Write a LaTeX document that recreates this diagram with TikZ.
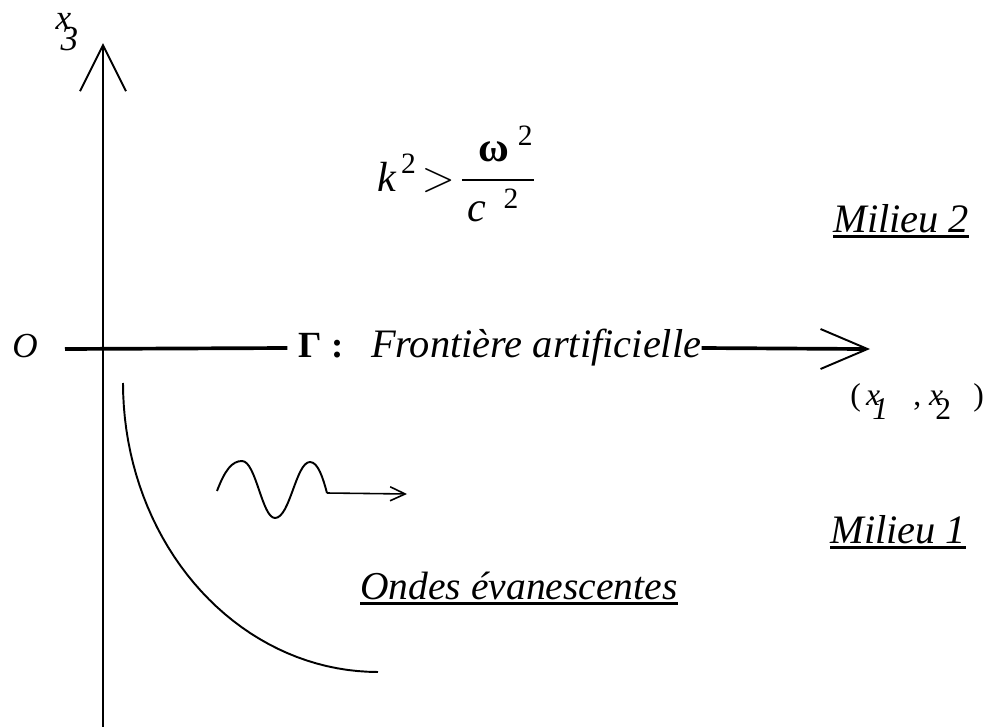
\documentclass[tikz,border=0pt]{standalone}
\usepackage{amsmath}
\usepackage{fontspec}
\setmainfont{Liberation Serif}
\usetikzlibrary{arrows.meta}

\newcommand{\milieufont}{\fontsize{23}{27}\selectfont\itshape}
\newcommand{\ulbar}[1]{\setbox0\hbox{#1}\rlap{\rule[-3.4pt]{\wd0}{1.5pt}}\box0}

\begin{document}
\begin{tikzpicture}[x=0.02cm,y=-0.02cm,
  every node/.style={inner sep=0pt},
  thinline/.style={line width=1.1pt},
  thickline/.style={line width=2.1pt},
  bigbarb/.style={-{Straight Barb[length=0.92cm,width=0.92cm,line width=1.1pt 0 1]}},
  flatbarb/.style={-{Straight Barb[length=0.94cm,width=0.8cm,line width=1.1pt 0 1]}},
  smallbarb/.style={-{Straight Barb[length=0.3cm,width=0.28cm,line width=0.9pt 0 1]}}]
 \useasboundingbox (0,0) rectangle (992,727);

 % axes
 \coordinate (vbot) at (103,727);
 \coordinate (vtip) at (103,43);
 \coordinate (hstart) at (65,349);
 \coordinate (htip) at (870,349);
 \draw[thinline,bigbarb] (vbot) -- (vtip);
 \node (gamma) [anchor=west] at (298,348)
   {\fontsize{21}{25}\selectfont\textbf{Γ :}\hspace{0.75em}\fontsize{23}{27}\selectfont\textit{Frontière artificielle}};
 \draw[thickline] (hstart) -- ([xshift=-6pt]gamma.west);
 \draw[thickline] (gamma.east) -- ([xshift=-4pt]htip);
 \draw[thinline,flatbarb] ([xshift=-6pt]htip) -- (htip);

 % labels of the axes
 \node (orig) at (25,346) {\fontsize{20}{24}\selectfont\itshape O};
 \node (xthree) at (67,32)
   {\fontsize{20}{22}\selectfont\itshape x\hspace{-0.3em}\raisebox{-0.62em}{3}};
 \node (xonetwo) [anchor=base west] at (850,405)
   {\fontsize{18}{20}\selectfont (\,\textit{x}\hspace{-.25em}\raisebox{-.45em}{\textit{1}}\hspace{.8em},\hspace{.25em}\textit{x}\hspace{-.25em}\raisebox{-.45em}{2}\hspace{.7em})};

 % condition
 \node (cond) [anchor=west] at (377,174) {\fontsize{24}{28}\selectfont
   $\text{\itshape k}^{\,\text{2}}\!>\!\dfrac{\hspace{.4em}\text{\bfseries ω}^{\;\text{2}}}{\text{\itshape c}^{\;\;\text{2}}\hspace{.2em}}$};

 % media
 \node (mtwo) [anchor=base west] at (833,232) {\milieufont\ulbar{Milieu 2}};
 \node (mone) [anchor=base west] at (830,543) {\milieufont\ulbar{Milieu 1}};
 \node (ondes) [anchor=base west] at (360,599) {\fontsize{22.5}{26}\selectfont\itshape\ulbar{Ondes évanescentes}};

 % decay curve
 \draw[thinline] plot[domain=180:90,samples=40] ({378+255*cos(\x)},{383+289*sin(\x)});

 % wave
 \coordinate (wend) at (327,493);
 \coordinate (wtip) at (407,494);
 \draw[thinline,line join=round] (217,491) .. controls (225,470) and (232,461) .. (242,461)
   .. controls (256,461) and (262,518) .. (275,518)
   .. controls (290,518) and (296,462) .. (310,462)
   .. controls (318,462) and (323,478) .. (wend);
 \draw[line width=0.9pt,smallbarb] (wend) -- (wtip);
\end{tikzpicture}
\end{document}
